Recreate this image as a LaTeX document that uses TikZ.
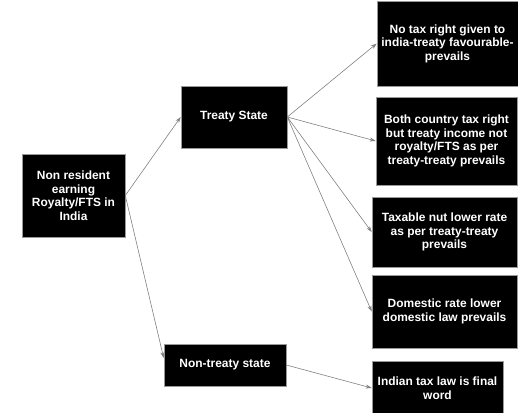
\documentclass[tikz,border=0pt]{standalone}
\usepackage{fontspec}
\setmainfont{Liberation Sans}
\usetikzlibrary{arrows.meta}
\tikzset{
    box/.style={draw=gray!80,fill=black,text=white,font=\fontsize{12}{13.6}\selectfont\bfseries,align=center,inner sep=0pt,line width=0.6pt},
    link/.style={draw=gray,line width=0.6pt,-{Stealth[length=6pt,width=4pt]}}
}
\begin{document}
\begin{tikzpicture}[x=1bp,y=-1bp]
    \useasboundingbox (0,0) rectangle (518,412);

    % left side
    \node[box,minimum width=103bp,minimum height=83bp] (nri) at (73.5,195.5) {Non resident\\earning\\Royalty/FTS in\\India};
    \node[box,minimum width=106bp,minimum height=62bp] (treaty) at (234,117) {Treaty State};
    \node[box,minimum width=122bp,minimum height=42bp] (nontreaty) at (225,365) {Non-treaty state};

    % right side
    \node[box,minimum width=141bp,minimum height=85bp] (notax) at (447.5,43.5) {No tax right given to\\india-treaty favourable-\\prevails};
    \node[box,minimum width=141bp,minimum height=88bp] (both) at (446.5,141) {Both country tax right\\but treaty income not\\royalty/FTS as per\\treaty-treaty prevails};
    \node[box,minimum width=145bp,minimum height=70bp] (lower) at (444.5,232) {Taxable nut lower rate\\as per treaty-treaty\\prevails};
    \node[box,minimum width=145bp,minimum height=73bp] (domestic) at (444.5,311.5) {Domestic rate lower\\domestic law prevails};
    \node[box,minimum width=131bp,minimum height=54bp] (indlaw) at (437.5,388) {Indian tax law is final\\word};

    \draw[link] (nri.east) -- (treaty.west);
    \draw[link] (nri.east) -- ([yshift=7bp]nontreaty.west);
    \draw[link] (treaty.east) -- (notax.west);
    \draw[link] (treaty.east) -- (both.west);
    \draw[link] (treaty.east) -- (lower.west);
    \draw[link] (treaty.east) -- (domestic.west);
    \draw[link] (nontreaty.east) -- (indlaw.west);
\end{tikzpicture}
\end{document}
